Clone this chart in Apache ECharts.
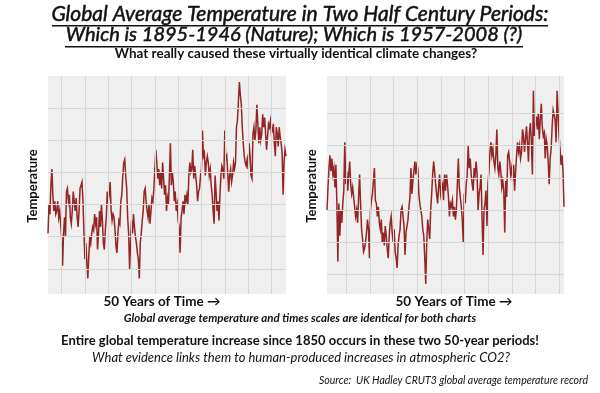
<!DOCTYPE html>
<html><head><meta charset="utf-8">
<script src="https://cdn.jsdelivr.net/npm/echarts@6/dist/echarts.min.js"></script>
<style>html,body{margin:0;padding:0;background:#fff}#c{width:600px;height:393px}</style>
</head><body><div id="c"></div><script>
// Left panel: global average temperature (anomaly, °C), monthly-ish samples
const leftPeriod = [1895, 1946];
const leftValues = [
-0.29,-0.20,-0.23,-0.14,-0.09,-0.17,-0.22,-0.19,-0.23,-0.22,
-0.19,-0.24,-0.22,-0.26,-0.30,-0.39,-0.29,-0.24,-0.30,-0.16,
-0.15,-0.19,-0.17,-0.24,-0.26,-0.22,-0.16,-0.19,-0.22,-0.18,
-0.24,-0.27,-0.22,-0.15,-0.14,-0.13,-0.19,-0.29,-0.37,-0.32,
-0.38,-0.43,-0.36,-0.30,-0.32,-0.29,-0.27,-0.28,-0.23,-0.26,
-0.24,-0.34,-0.29,-0.22,-0.27,-0.20,-0.25,-0.32,-0.34,-0.28,
-0.24,-0.16,-0.19,-0.17,-0.13,-0.22,-0.25,-0.23,-0.24,-0.28,
-0.33,-0.35,-0.29,-0.25,-0.26,-0.19,-0.17,-0.11,-0.07,-0.06,
-0.11,-0.15,-0.24,-0.29,-0.40,-0.32,-0.25,-0.29,-0.23,-0.27,
-0.30,-0.32,-0.35,-0.37,-0.43,-0.32,-0.29,-0.25,-0.22,-0.16,
-0.15,-0.19,-0.22,-0.24,-0.20,-0.26,-0.22,-0.18,-0.19,-0.15,
-0.09,-0.03,-0.07,-0.12,-0.09,-0.14,-0.10,-0.15,-0.07,-0.12,
-0.17,-0.14,-0.22,-0.18,-0.20,
-0.11,-0.01,-0.14,-0.10,-0.13,-0.19,-0.16,-0.22,-0.20,-0.25,
-0.27,-0.35,-0.24,-0.22,-0.19,-0.23,-0.17,-0.19,-0.17,-0.20,
-0.11,-0.07,-0.10,-0.09,-0.03,-0.12,-0.08,-0.11,-0.14,-0.19,
-0.16,-0.15,-0.11,-0.09,0.03,-0.05,-0.04,-0.11,-0.07,-0.05,
-0.07,-0.11,-0.09,-0.14,-0.17,-0.22,-0.26,-0.11,-0.16,-0.22,
-0.19,-0.25,-0.17,-0.11,-0.08,-0.09,-0.12,0.03,-0.06,-0.05,
-0.10,-0.16,-0.11,-0.09,-0.13,-0.11,-0.07,-0.09,-0.07,0.04,
0.06,0.12,0.18,0.14,0.11,0.04,-0.01,-0.05,-0.07,-0.08,
-0.06,-0.09,-0.01,-0.05,-0.11,-0.12,0.02,0.04,0.00,0.03,
0.11,0.05,-0.01,0.04,0.00,0.02,0.08,0.04,0.07,0.02,
-0.03,0.01,0.05,0.04,0.06,0.02,0.03,0.05,-0.01,-0.05,
0.04,0.02,-0.02,0.04,0.01,-0.01,-0.04,-0.17,-0.07,-0.03,
-0.05
];
// Right panel
const rightPeriod = [1957, 2008];
const rightValues = [
0.30,0.37,0.43,0.47,0.42,0.46,0.41,0.43,0.37,0.44,
0.32,0.14,0.32,0.22,0.30,0.26,0.32,0.36,0.51,0.38,
0.42,0.36,0.41,0.45,0.38,0.35,0.37,0.34,0.31,0.28,
0.30,0.26,0.34,0.41,0.32,0.24,0.21,0.17,0.18,0.20,
0.23,0.27,0.24,0.15,0.30,0.33,0.35,0.39,0.43,0.33,
0.32,0.28,0.31,0.26,0.24,0.27,0.20,0.23,0.19,0.25,
0.22,0.18,0.15,0.22,0.26,0.28,0.23,0.20,0.24,0.17,
0.15,0.12,0.19,0.22,0.24,0.30,0.31,0.28,0.25,0.16,
0.23,0.23,0.27,0.31,0.34,0.43,0.35,0.39,0.42,0.45,
0.41,0.44,0.43,0.35,0.32,0.30,0.28,0.24,0.22,0.15,
0.07,0.20,0.27,0.24,0.21,0.30,0.35,0.41,0.45,0.42,
0.38,0.35,0.32,0.37,0.41,0.35,0.37,0.38,0.33,0.41,
0.36,
0.41,0.38,0.34,0.28,0.32,0.31,0.33,0.28,0.31,0.27,
0.30,0.38,0.46,0.37,0.34,0.31,0.27,0.20,0.35,0.32,
0.38,0.41,0.50,0.43,0.46,0.41,0.38,0.36,0.43,0.41,
0.45,0.41,0.30,0.35,0.37,0.41,0.28,0.16,0.30,0.32,
0.36,0.25,0.38,0.42,0.48,0.51,0.47,0.49,0.45,0.43,
0.47,0.55,0.43,0.41,0.45,0.42,0.37,0.39,0.36,0.23,
0.39,0.34,0.47,0.48,0.45,0.41,0.43,0.39,0.44,0.36,
0.42,0.47,0.51,0.48,0.50,0.46,0.48,0.55,0.53,0.48,
0.52,0.56,0.51,0.45,0.54,0.57,0.51,0.41,0.67,0.53,
0.56,0.59,0.55,0.60,0.52,0.58,0.63,0.56,0.53,0.54,
0.46,0.52,0.50,0.45,0.38,0.46,0.49,0.56,0.61,0.61,
0.58,0.51,0.67,0.60,0.53,0.49,0.44,0.47,0.42,0.31
];
// Gridlines (axis break positions)
const leftGridYears  = [1897.9,1902.9,1907.9,1912.9,1917.9,1922.9,1927.9,1932.9,1937.9,1942.9];
const rightGridYears = [1961.2,1966.3,1971.3,1976.4,1981.5,1986.6,1991.7,1996.8,2001.9,2007.0];
const leftGridTemps  = [0.1,0.0,-0.1,-0.2,-0.3,-0.4];
const rightGridTemps = [0.6,0.5,0.4,0.3,0.2,0.1];
const leftRange  = [-0.478, 0.199];
const rightRange = [0.039, 0.716];

function toPairs(vals, period){
  const step = (period[1]-period[0])/(vals.length-1);
  return vals.map((v,i)=>[period[0]+i*step, v]);
}
const FONT = 'Lato, "Open Sans", sans-serif';
const gridBg = '#efefef', gridLine = '#d6d6d6', lineCol = '#850000';

function gridSeries(idx, years, temps, pairs){
  return {
    type:'line', xAxisIndex:idx, yAxisIndex:idx, data:pairs, symbol:'none', silent:true, z:1,
    lineStyle:{opacity:0}, animation:false,
    markLine:{ symbol:'none', silent:true, animation:false, label:{show:false},
      lineStyle:{color:gridLine, width:1, type:'solid'},
      emphasis:{disabled:true},
      data: years.map(y=>({xAxis:y})).concat(temps.map(t=>({yAxis:t}))) }
  };
}
function dataSeries(idx, pairs){
  return { type:'line', xAxisIndex:idx, yAxisIndex:idx, data:pairs, symbol:'none', z:3,
    animation:false, silent:true, lineStyle:{color:lineCol, width:1.5, opacity:0.85, join:'miter'} };
}
const lp = toPairs(leftValues, leftPeriod), rp = toPairs(rightValues, rightPeriod);
const axisHidden = {axisLine:{show:false}, axisTick:{show:false}, axisLabel:{show:false}, splitLine:{show:false}};

const chart = echarts.init(document.getElementById('c'), null, {renderer:'canvas'});
chart.setOption({
  animation:false,
  grid:[
    {left:48, top:76, width:238, height:218, show:true, backgroundColor:gridBg, borderWidth:0},
    {left:327, top:76, width:237, height:218, show:true, backgroundColor:gridBg, borderWidth:0}
  ],
  xAxis:[
    Object.assign({type:'value', gridIndex:0, min:leftPeriod[0], max:leftPeriod[1]}, axisHidden),
    Object.assign({type:'value', gridIndex:1, min:rightPeriod[0], max:rightPeriod[1]}, axisHidden)
  ],
  yAxis:[
    Object.assign({type:'value', gridIndex:0, min:leftRange[0], max:leftRange[1]}, axisHidden),
    Object.assign({type:'value', gridIndex:1, min:rightRange[0], max:rightRange[1]}, axisHidden)
  ],
  series:[
    gridSeries(0, leftGridYears, leftGridTemps, lp),
    gridSeries(1, rightGridYears, rightGridTemps, rp),
    dataSeries(0, lp), dataSeries(1, rp)
  ],
  graphic:[
    {type:'text', x:300, y:14, style:{text:'Global Average Temperature in Two Half Century Periods:', font:'italic 21px '+FONT, fill:'#111', stroke:'#111', lineWidth:0.5, align:'center', verticalAlign:'middle'}},
    {type:'rect', shape:{x:52, y:25, width:496, height:1.5}, style:{fill:'#111'}},
    {type:'text', x:294, y:35, style:{text:'Which is 1895-1946 (Nature); Which is 1957-2008 (?)', font:'italic 20px '+FONT, fill:'#111', stroke:'#111', lineWidth:0.5, align:'center', verticalAlign:'middle'}},
    {type:'rect', shape:{x:65, y:46, width:458, height:1.5}, style:{fill:'#111'}},
    {type:'text', x:296, y:54, style:{text:'What really caused these virtually identical climate changes?', font:'bold 13.5px '+FONT, fill:'#111', align:'center', verticalAlign:'middle'}},
    {type:'text', x:33, y:186, rotation:Math.PI/2, style:{text:'Temperature', font:'bold 13px '+FONT, fill:'#111', align:'center', verticalAlign:'middle'}},
    {type:'text', x:312, y:186, rotation:Math.PI/2, style:{text:'Temperature', font:'bold 13px '+FONT, fill:'#111', align:'center', verticalAlign:'middle'}},
    {type:'text', x:162, y:302, style:{text:'50 Years of Time \u2192', font:'bold 13.5px '+FONT, fill:'#111', align:'center', verticalAlign:'middle'}},
    {type:'text', x:454, y:302, style:{text:'50 Years of Time \u2192', font:'bold 13.5px '+FONT, fill:'#111', align:'center', verticalAlign:'middle'}},
    {type:'text', x:300, y:318, style:{text:'Global average temperature and times scales are identical for both charts', font:'italic bold 11.5px '+FONT, fill:'#111', align:'center', verticalAlign:'middle'}},
    {type:'text', x:300, y:341, style:{text:'Entire global temperature increase since 1850 occurs in these two 50-year periods!', font:'bold 13px '+FONT, fill:'#111', align:'center', verticalAlign:'middle'}},
    {type:'text', x:301, y:358, style:{text:'What evidence links them to human-produced increases in atmospheric CO2?', font:'italic 13px '+FONT, fill:'#111', align:'center', verticalAlign:'middle'}},
    {type:'text', x:588, y:381, style:{text:'Source:  UK Hadley CRUT3 global average temperature record', font:'italic 10.5px '+FONT, fill:'#111', align:'right', verticalAlign:'middle'}}
  ]
});
</script></body></html>
